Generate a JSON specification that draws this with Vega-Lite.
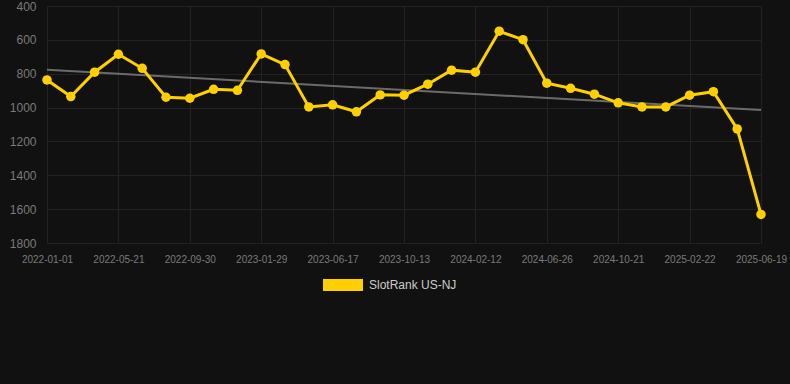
{
  "$schema": "https://vega.github.io/schema/vega-lite/v6.json",
  "width": 750,
  "height": 237,
  "autosize": "none",
  "padding": {"left": 40, "top": 6, "right": 0, "bottom": 141},
  "background": "#111111",
  "config": {
    "view": {"stroke": null},
    "font": "Liberation Sans",
    "axis": {"gridColor": "#222222", "domain": false, "ticks": false, "labelColor": "#7a7a7a"}
  },
  "encoding": {
    "x": {
      "field": "date", "type": "ordinal", "title": null,
      "scale": {"type": "point", "range": [7, 721], "padding": 0},
      "axis": {
        "values": ["2022-01-01", "2022-05-21", "2022-09-30", "2023-01-29", "2023-06-17", "2023-10-13", "2024-02-12", "2024-06-26", "2024-10-21", "2025-02-22", "2025-06-19"],
        "labelAngle": 0, "labelFontSize": 10, "labelPadding": 11, "grid": true
      }
    },
    "y": {
      "field": "rank", "type": "quantitative", "title": null,
      "scale": {"domain": [400, 1800], "reverse": true, "nice": false, "zero": false},
      "axis": {"values": [400, 600, 800, 1000, 1200, 1400, 1600, 1800], "format": "d", "labelFontSize": 12, "labelPadding": 4, "labelOverlap": false, "labelBound": false, "labelFlush": false}
    }
  },
  "layer": [
    {
      "data": {"values": [
        {"date": "2022-01-01", "rank": 777},
        {"date": "2025-06-19", "rank": 1015}
      ]},
      "mark": {"type": "line", "color": "#6b6b6b", "strokeWidth": 2}
    },
    {
      "data": {"values": [
        {"date": "2022-01-01", "rank": 837},
        {"date": "2022-02-17", "rank": 935},
        {"date": "2022-04-04", "rank": 791},
        {"date": "2022-05-21", "rank": 685},
        {"date": "2022-07-03", "rank": 768},
        {"date": "2022-08-16", "rank": 939},
        {"date": "2022-09-30", "rank": 945},
        {"date": "2022-11-09", "rank": 892},
        {"date": "2022-12-19", "rank": 898},
        {"date": "2023-01-29", "rank": 683},
        {"date": "2023-03-16", "rank": 746},
        {"date": "2023-05-01", "rank": 996},
        {"date": "2023-06-17", "rank": 984},
        {"date": "2023-07-26", "rank": 1025},
        {"date": "2023-09-03", "rank": 925},
        {"date": "2023-10-13", "rank": 927},
        {"date": "2023-11-23", "rank": 862},
        {"date": "2024-01-02", "rank": 779},
        {"date": "2024-02-12", "rank": 791},
        {"date": "2024-03-27", "rank": 549},
        {"date": "2024-05-11", "rank": 599},
        {"date": "2024-06-26", "rank": 856},
        {"date": "2024-08-04", "rank": 886},
        {"date": "2024-09-12", "rank": 921},
        {"date": "2024-10-21", "rank": 972},
        {"date": "2024-12-01", "rank": 996},
        {"date": "2025-01-11", "rank": 996},
        {"date": "2025-02-22", "rank": 927},
        {"date": "2025-04-01", "rank": 906},
        {"date": "2025-05-10", "rank": 1126},
        {"date": "2025-06-19", "rank": 1631}
      ]},
      "encoding": {
        "color": {
          "datum": "SlotRank US-NJ",
          "scale": {"range": ["#FFD000"]},
          "legend": {
            "title": null, "orient": "none", "legendX": 283, "legendY": 259, "padding": 0,
            "symbolType": "M-1,-0.3H1V0.3H-1Z", "symbolSize": 1600,
            "symbolStrokeWidth": 0, "labelColor": "#cccccc", "labelFontSize": 12, "labelOffset": 6
          }
        }
      },
      "layer": [
        {"mark": {"type": "line", "strokeWidth": 3}},
        {"mark": {"type": "point", "filled": true, "size": 90, "opacity": 1}}
      ]
    }
  ]
}
